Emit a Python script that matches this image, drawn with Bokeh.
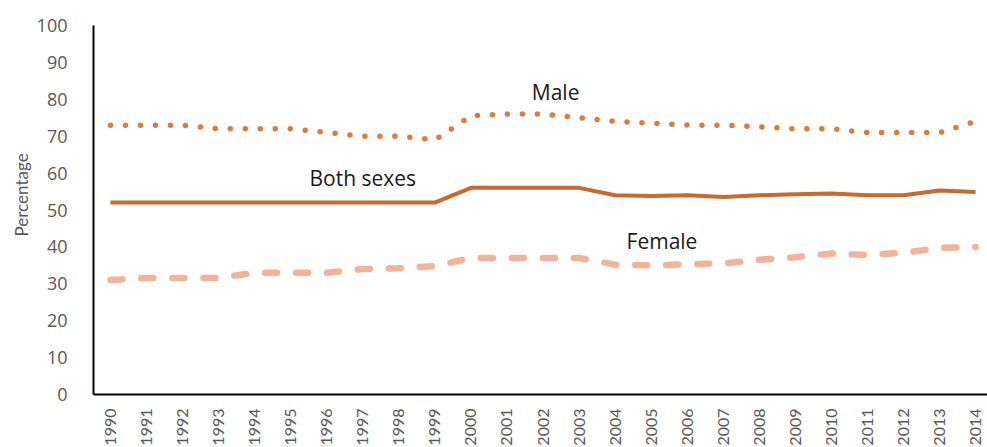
from math import pi
from bokeh.plotting import figure
from bokeh.models import Range1d, FixedTicker, Label, Title
from bokeh.embed import file_html
from bokeh.resources import INLINE

years = list(range(1990, 2015))
year_labels = [str(y) for y in years]
male = [73, 73, 73, 72, 72, 72, 71, 70, 70, 69, 75.5, 76, 76, 75, 74, 73.5, 73, 73, 72.5, 72, 72, 71, 71, 71, 74]
both = [52, 52, 52, 52, 52, 52, 52, 52, 52, 52, 56, 56, 56, 56, 54, 53.8, 54, 53.5, 54, 54.3, 54.5, 54, 54, 55.3, 54.9]
female = [31, 31.6, 31.6, 31.6, 33, 33, 33, 34, 34.2, 34.8, 37, 37, 37, 37, 35.2, 35, 35.3, 35.5, 36.5, 37.2, 38.2, 37.8, 38.4, 39.7, 40]
y_ticks = [0, 10, 20, 30, 40, 50, 60, 70, 80, 90, 100]

series_names = ["Male", "Both sexes", "Female"]
label_x = [2002.35, 1997.0, 2005.3]
label_y = [82.0, 58.8, 41.7]
y_title = "Percentage"

p = figure(frame_width=894, frame_height=369, x_range=Range1d(1989.53, 2014.33), y_range=Range1d(0, 100),
           output_backend="svg", toolbar_location=None,
           min_border_left=93, min_border_right=0, min_border_top=25, min_border_bottom=30)
p.outline_line_color = None
p.xgrid.visible = False
p.ygrid.visible = False
p.background_fill_color = "white"
p.border_fill_color = "white"

p.line(years, male, line_color="#E07A3A", line_width=5.5, line_dash="0 15", line_cap="round")
p.line(years, both, line_color="#C8692E", line_width=4, line_join="round")
p.line(years, female, line_color="#F2B39B", line_width=6.5, line_dash="12 19", line_cap="round", line_join="round")

for name, lx, ly in zip(series_names, label_x, label_y):
    p.add_layout(Label(x=lx, y=ly, text=name, text_align="center", text_baseline="middle",
                       text_font="Open Sans", text_font_size="21px", text_color="#1a1a1a"))

p.add_layout(Title(text=y_title, align="left", offset=158, text_font="Lato", text_font_size="17px",
                   text_font_style="normal", text_color="#595959", standoff=4), "left")

p.yaxis.ticker = FixedTicker(ticks=y_ticks)
p.yaxis.major_label_text_font = "Open Sans"
p.yaxis.major_label_text_font_size = "18px"
p.yaxis.major_label_text_color = "#595959"
p.yaxis.major_label_standoff = 20
p.yaxis.major_tick_line_color = None
p.yaxis.minor_tick_line_color = None
p.yaxis.axis_line_color = "black"
p.yaxis.axis_line_width = 2

p.xaxis.ticker = FixedTicker(ticks=years)
p.xaxis.major_label_overrides = {y: s for y, s in zip(years, year_labels)}
p.xaxis.major_label_orientation = pi / 2
p.xaxis.major_label_text_font = "Lato"
p.xaxis.major_label_text_font_size = "16px"
p.xaxis.major_label_text_color = "#595959"
p.xaxis.major_label_standoff = 8
p.xaxis.major_tick_line_color = None
p.xaxis.minor_tick_line_color = None
p.xaxis.axis_line_color = "black"
p.xaxis.axis_line_width = 2

open("out.html", "w").write(file_html(p, INLINE))
